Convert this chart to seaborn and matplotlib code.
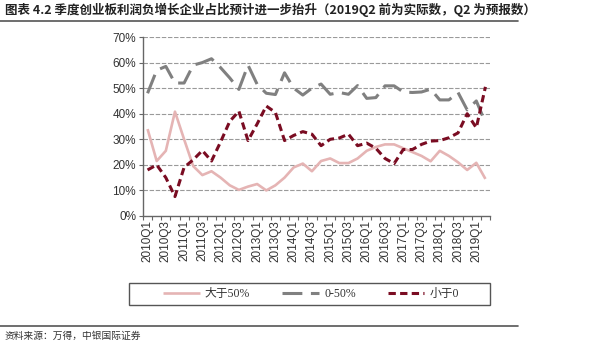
import matplotlib
matplotlib.use("Agg")
import matplotlib.pyplot as plt
from matplotlib.lines import Line2D
from matplotlib.patches import Rectangle
from matplotlib.font_manager import FontProperties
import seaborn as sns
import pandas as pd

# Quarterly share of ChiNext companies by profit growth bucket (%)
quarters = [f"{y}Q{q}" for y in range(2010, 2020) for q in range(1, 5)][:38]

above_50 = [34, 21.5, 25.5, 40.8, 30, 19.5, 16, 17.5, 15, 12,
            10.2, 11.5, 12.5, 10, 12, 15, 19, 20.5, 17.5, 21.5,
            22.5, 20.7, 20.7, 22.5, 25.5, 27, 28, 28, 26.5, 25,
            23.5, 21.4, 25.5, 23.5, 21, 18, 20.8, 14.5]
zero_to_50 = [48, 57, 58.5, 52, 52, 59, 60, 61.5, 58, 54,
              49.5, 59, 51.5, 48, 47.5, 56, 50, 47.3, 50, 51.6,
              47.6, 48.3, 47.6, 51, 46, 46.3, 50.9, 50.9, 48.5, 48.3,
              48.5, 49.6, 45.4, 45.4, 48.3, 41.5, 45, 36.5]
below_0 = [18, 20, 15, 7.6, 19, 22, 25.6, 21.5, 29, 37,
           41, 29.5, 36, 43, 40.5, 29.5, 31.5, 33, 32, 27.5,
           30, 30.5, 32, 27.5, 28.5, 26.5, 22.5, 20.5, 26, 26,
           28, 29.3, 29.5, 30.6, 32.5, 40, 34.5, 50.5]

series_names = ["大于50%", "0-50%", "小于0"]
y_ticks = [0, 10, 20, 30, 40, 50, 60, 70]

title = "图表 4.2 季度创业板利润负增长企业占比预计进一步抬升（2019Q2 前为实际数，Q2 为预报数）"
source = "资料来源：万得，中银国际证券"

df = pd.DataFrame({
    "idx": list(range(len(quarters))) * 3,
    "value": above_50 + zero_to_50 + below_0,
    "series": [series_names[0]] * len(quarters)
              + [series_names[1]] * len(quarters)
              + [series_names[2]] * len(quarters),
})

sns.set_theme(style="white")
plt.rcParams["font.family"] = ["Liberation Sans", "Noto Sans CJK SC", "DejaVu Sans"]

fig = plt.figure(figsize=(6.0, 3.46), dpi=100)
ax = fig.add_axes([143 / 600, 1 - 216 / 346, (490 - 143) / 600, (216 - 37) / 346])

palette = {series_names[0]: "#E5B4B4", series_names[1]: "#808080", series_names[2]: "#7A0C22"}
dashes = {series_names[0]: "", series_names[1]: (6.5, 2.8), series_names[2]: (2.4, 1.4)}

sns.lineplot(data=df, x="idx", y="value", hue="series", style="series",
             hue_order=series_names, style_order=series_names,
             palette=palette, dashes=dashes, linewidth=2.2,
             errorbar=None, legend=False, ax=ax)
ax.lines[0].set_linewidth(1.9)
for ln in ax.lines:
    ln.set_solid_capstyle("butt")
    ln.set_dash_capstyle("butt")

n = len(quarters)
ax.set_xlim(-0.5, n - 0.5)
ax.set_ylim(0, 70)
ax.set_yticks(y_ticks)
ax.set_yticklabels([f"{v}%" for v in y_ticks], fontsize=8.5, color="#333333")

# tick marks at category boundaries, labels on every other quarter
ax.set_xticks([i - 0.5 for i in range(n + 1)])
ax.set_xticklabels([])
ax.set_xticks(list(range(0, n, 2)), minor=True)
ax.set_xticklabels([quarters[i] for i in range(0, n, 2)], minor=True,
                   rotation=90, fontsize=8.5, color="#333333")
ax.tick_params(axis="x", which="major", direction="out", length=3, width=0.8,
               color="#666666", bottom=True)
ax.tick_params(axis="x", which="minor", length=0, pad=3, bottom=True)
ax.tick_params(axis="y", direction="out", length=3, width=0.8, color="#666666",
               left=True, pad=2)

ax.set_xlabel("")
ax.set_ylabel("")
ax.grid(False)
for v in y_ticks[1:]:
    ax.axhline(v, color="#9A9A9A", lw=0.8, ls=(0, (4, 1.5)), zorder=0)

for side in ["top", "right"]:
    ax.spines[side].set_visible(False)
for side in ["left", "bottom"]:
    ax.spines[side].set_color("#666666")
    ax.spines[side].set_linewidth(1.0)

# legend below the chart, inside a fixed-width box
fig.add_artist(Rectangle((129 / 600, 1 - 305 / 346), 361 / 600, 22 / 346,
                         transform=fig.transFigure, fill=False,
                         edgecolor="#555555", lw=1.0))
leg_font = FontProperties(family=["Liberation Serif", "Noto Sans CJK SC"], size=8.5)
leg = fig.legend(ax.lines[:3], series_names, loc="center", ncol=3,
                 bbox_to_anchor=(311 / 600, 1 - 294 / 346),
                 prop=leg_font, frameon=False,
                 handlelength=3.1, handletextpad=0.45, columnspacing=2.7,
                 borderpad=0.2, borderaxespad=0)
for t in leg.get_texts():
    t.set_color("#333333")

# title, rules and source
fig.text(5 / 600, 1 - 10 / 346, title, ha="left", va="center", fontsize=9,
         fontweight="bold", color="#222222",
         family=["Noto Sans CJK SC", "DejaVu Sans"])
fig.add_artist(Line2D([0, 518 / 600], [1 - 21 / 346] * 2, transform=fig.transFigure,
                      color="#555555", lw=1.2))
fig.add_artist(Line2D([0, 518 / 600], [1 - 326 / 346] * 2, transform=fig.transFigure,
                      color="#555555", lw=1.2))
fig.text(5 / 600, 1 - 336 / 346, source, ha="left", va="center", fontsize=7,
         color="#333333", family=["Noto Sans CJK SC", "DejaVu Sans"])

fig.savefig("out.png", dpi=100)
